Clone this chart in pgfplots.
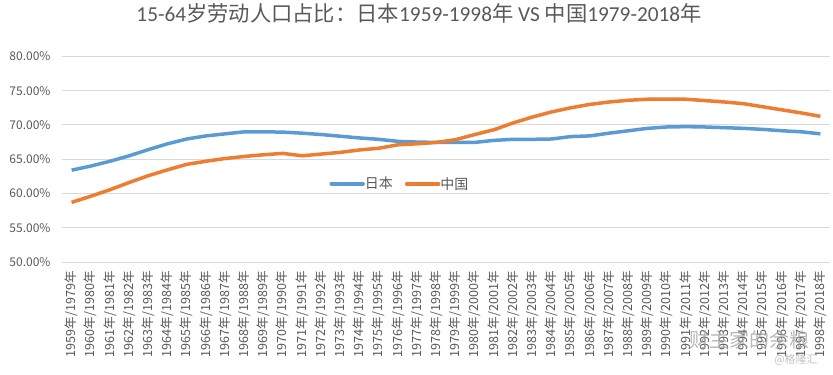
\documentclass[border=0pt]{standalone}
\usepackage{pgfplots}
\pgfplotsset{compat=1.18}
\usepackage{fontspec}
\setmainfont{Noto Sans CJK SC}
\newfontfamily\lat{Carlito}
\definecolor{jpblue}{RGB}{91,155,213}
\definecolor{cnorange}{RGB}{237,125,49}
\definecolor{txtgray}{RGB}{89,89,89}
\definecolor{gridgray}{RGB}{217,217,217}
\begin{document}
\begin{tikzpicture}
\path[use as bounding box] (-62bp,-113bp) rectangle (771bp,262bp);
\begin{axis}[
  scale only axis,
  width=768bp, height=205.6bp,
  at={(0,0)}, anchor=south west,
  xmin=-0.5, xmax=39.5,
  ymin=50, ymax=80,
  axis line style={draw=none},
  ytick={50,55,60,65,70,75,80},
  yticklabels={50.00\%,55.00\%,60.00\%,65.00\%,70.00\%,75.00\%,80.00\%},
  ymajorgrids,
  grid style={gridgray, line width=1bp},
  major tick length=0pt,
  xtick={0,...,39},
  xticklabels={1959年/1979年,1960年/1980年,1961年/1981年,1962年/1982年,1963年/1983年,1964年/1984年,1965年/1985年,1966年/1986年,1967年/1987年,1968年/1988年,1969年/1989年,1970年/1990年,1971年/1991年,1972年/1992年,1973年/1993年,1974年/1994年,1975年/1995年,1976年/1996年,1977年/1997年,1978年/1998年,1979年/1999年,1980年/2000年,1981年/2001年,1982年/2002年,1983年/2003年,1984年/2004年,1985年/2005年,1986年/2006年,1987年/2007年,1988年/2008年,1989年/2009年,1990年/2010年,1991年/2011年,1992年/2012年,1993年/2013年,1994年/2014年,1995年/2015年,1996年/2016年,1997年/2017年,1998年/2018年},
  x tick label style={rotate=90, anchor=east, xshift=-9bp, font=\fontsize{12.6bp}{13.5bp}\selectfont, text=txtgray, inner sep=0bp},
  y tick label style={font=\fontsize{12bp}{14bp}\selectfont, text=txtgray, xshift=-8bp},
  title={{\lat 15-64}岁劳动人口占比：日本{\lat 1959-1998}年{\lat\ VS }中国{\lat 1979-2018}年},
  title style={font=\fontsize{21.3bp}{24bp}\selectfont, text=txtgray, at={(rel axis cs:0.5,1)}, anchor=center, xshift=-27bp, yshift=37bp},
  legend columns=2,
  legend style={at={(rel axis cs:0.44,0.38)}, anchor=center, draw=none, fill=none,
    font=\fontsize{14bp}{16bp}\selectfont, text=txtgray, inner sep=0bp,
    /tikz/every even column/.append style={column sep=10bp},
    /tikz/every odd column/.append style={column sep=-2bp}},
  legend image code/.code={\draw[#1, line cap=round] (0bp,0bp) -- (32bp,0bp);},
  clip=false,
]
\draw[gridgray, line width=1bp] (rel axis cs:0,0) -- (rel axis cs:1,0);
\addplot[jpblue, line width=3.5bp, line join=round] coordinates {
(0,63.4)(1,64.0)(2,64.7)(3,65.5)(4,66.4)(5,67.25)(6,67.95)(7,68.4)(8,68.7)(9,69.0)
(10,69.0)(11,68.95)(12,68.8)(13,68.6)(14,68.35)(15,68.1)(16,67.9)(17,67.6)(18,67.5)(19,67.45)
(20,67.45)(21,67.45)(22,67.75)(23,67.9)(24,67.9)(25,67.95)(26,68.3)(27,68.4)(28,68.8)(29,69.15)
(30,69.5)(31,69.7)(32,69.75)(33,69.7)(34,69.6)(35,69.5)(36,69.35)(37,69.15)(38,69.0)(39,68.7)};
\addlegendentry{日本}
\addplot[cnorange, line width=3.5bp, line join=round] coordinates {
(0,58.7)(1,59.6)(2,60.55)(3,61.6)(4,62.6)(5,63.45)(6,64.25)(7,64.7)(8,65.1)(9,65.4)
(10,65.65)(11,65.85)(12,65.5)(13,65.75)(14,66.0)(15,66.35)(16,66.6)(17,67.1)(18,67.25)(19,67.45)
(20,67.85)(21,68.6)(22,69.3)(23,70.3)(24,71.15)(25,71.9)(26,72.5)(27,73.0)(28,73.35)(29,73.6)
(30,73.75)(31,73.75)(32,73.75)(33,73.55)(34,73.35)(35,73.1)(36,72.65)(37,72.2)(38,71.75)(39,71.25)};
\addlegendentry{中国}
\end{axis}
\node[anchor=center, text=gray!70, opacity=0.8, font=\fontsize{20bp}{22bp}\selectfont] at (687bp,-78bp) {财主家的余粮};
\node[anchor=center, text=gray!60, opacity=0.8, font=\fontsize{11bp}{13bp}\selectfont] at (734bp,-98bp) {@格隆汇};
\end{tikzpicture}
\end{document}
